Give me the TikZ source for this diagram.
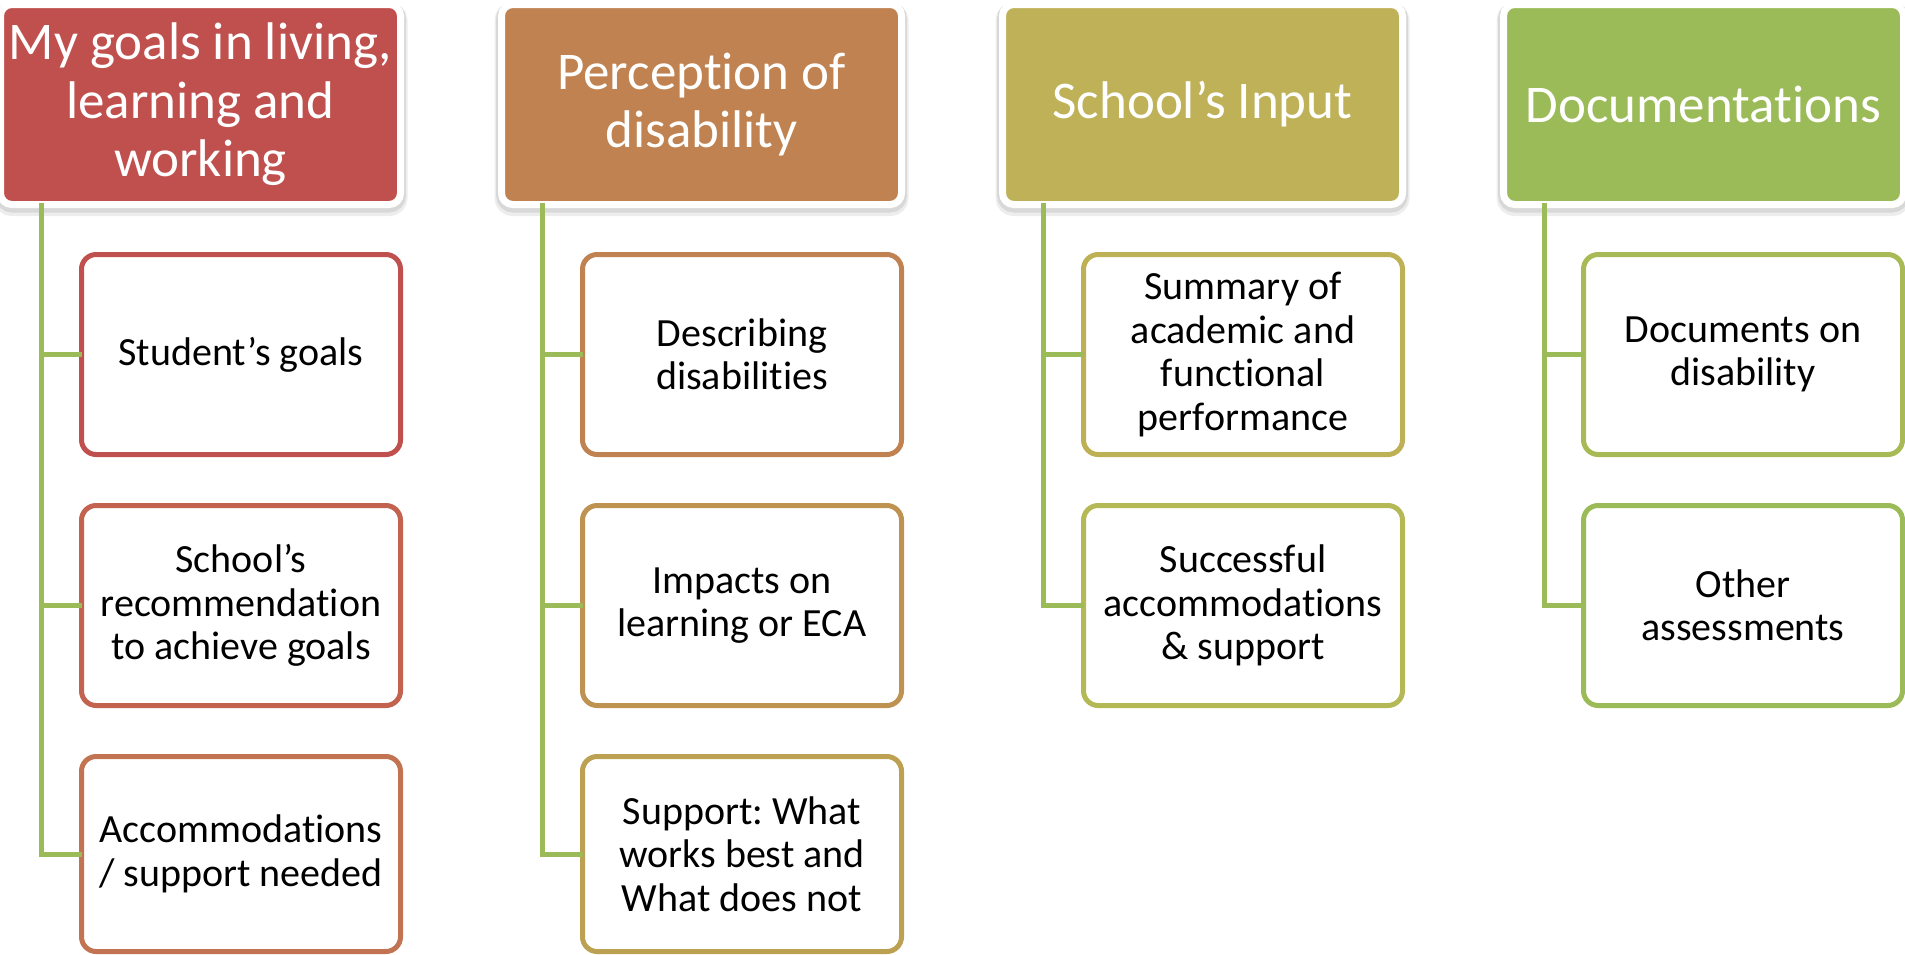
\documentclass[tikz,border=0pt]{standalone}
\usepackage{fontspec}
\setmainfont{Carlito}[Ligatures={TeX,NoCommon,NoContextual,NoRare}]
\frenchspacing

% Colour range from accent red to accent green
\definecolor{hdA}{HTML}{C0504D}
\definecolor{hdB}{HTML}{BF8250}
\definecolor{hdC}{HTML}{BFB158}
\definecolor{hdD}{HTML}{9BBB59}
\definecolor{kA}{HTML}{C0504D}
\definecolor{kB}{HTML}{C2624F}
\definecolor{kC}{HTML}{C27452}
\definecolor{kD}{HTML}{BF8250}
\definecolor{kE}{HTML}{BE9251}
\definecolor{kF}{HTML}{BDA153}
\definecolor{kG}{HTML}{BDB055}
\definecolor{kH}{HTML}{B5B955}
\definecolor{kI}{HTML}{A7BA56}
\definecolor{kJ}{HTML}{9BBB59}
\definecolor{linkgreen}{HTML}{9BBB59}

\tikzset{
  headbox/.style={rectangle, rounded corners=8.5pt, fill=#1, draw=white,
    line width=5.25pt, minimum width=300pt, minimum height=150pt,
    inner sep=0pt, text=white, align=center,
    font=\fontsize{39.75}{43.9}\selectfont,
    preaction={draw=black, draw opacity=0.07, line width=10.5pt,
      transform canvas={yshift=-3.5pt}},
    preaction={draw=black, draw opacity=0.09, line width=8pt,
      transform canvas={yshift=-2pt}}},
  kidbox/.style={rectangle, rounded corners=11pt, fill=white, draw=#1,
    line width=3.75pt, minimum width=239.25pt, minimum height=150pt,
    inner sep=0pt, text=black, align=center,
    font=\fontsize{30}{32.6}\selectfont},
  lastkid/.style={kidbox=#1, minimum height=146.25pt},
  link/.style={draw=linkgreen, line width=3.75pt, line cap=rect}
}

\begin{document}
\begin{tikzpicture}[x=0.75pt, y=-0.75pt]
\useasboundingbox (0,0) rectangle (1905,954);

% ---------- headers ----------
\node[headbox=hdA] (h1) at (200.5,104.5)  {My goals in living,\\learning and\\working};
\node[headbox=hdB] (h2) at (701.5,104.5)  {Perception of\\disability};
\node[headbox=hdC] (h3) at (1202.5,104.5) {School’s Input};
\node[headbox=hdD] (h4) at (1703.5,104.5) {Documentations};

% ---------- child boxes ----------
\node[kidbox=kA]  (c11) at (241,354.5) {Student’s goals};
\node[kidbox=kB]  (c12) at (241,605.5) {School’s\\recommendation\\to achieve goals};
\node[lastkid=kC] (c13) at (241,854)   {Accommodations\\/ support needed};

\node[kidbox=kD]  (c21) at (742,354.5) {Describing\\disabilities};
\node[kidbox=kE]  (c22) at (742,605.5) {Impacts on\\learning or ECA};
\node[lastkid=kF] (c23) at (742,854)   {Support: What\\works best and\\What does not};

\node[kidbox=kG]  (c31) at (1243,354.5) {Summary of\\academic and\\functional\\performance};
\node[kidbox=kH]  (c32) at (1243,605.5) {Successful\\accommodations\\\& support};

\node[kidbox=kI]  (c41) at (1743,354.5) {Documents on\\disability};
\node[kidbox=kJ]  (c42) at (1743,605.5) {Other\\assessments};

% ---------- branch lines, starting just under each header ----------
\coordinate (s1) at (41,205);
\coordinate (s2) at (542,205);
\coordinate (s3) at (1043,205);
\coordinate (s4) at (1544,205);

\draw[link] (s1) |- (c11.west);
\draw[link] (s1) |- (c12.west);
\draw[link] (s1) |- (c13.west);
\draw[link] (s2) |- (c21.west);
\draw[link] (s2) |- (c22.west);
\draw[link] (s2) |- (c23.west);
\draw[link] (s3) |- (c31.west);
\draw[link] (s3) |- (c32.west);
\draw[link] (s4) |- (c41.west);
\draw[link] (s4) |- (c42.west);
\end{tikzpicture}
\end{document}
